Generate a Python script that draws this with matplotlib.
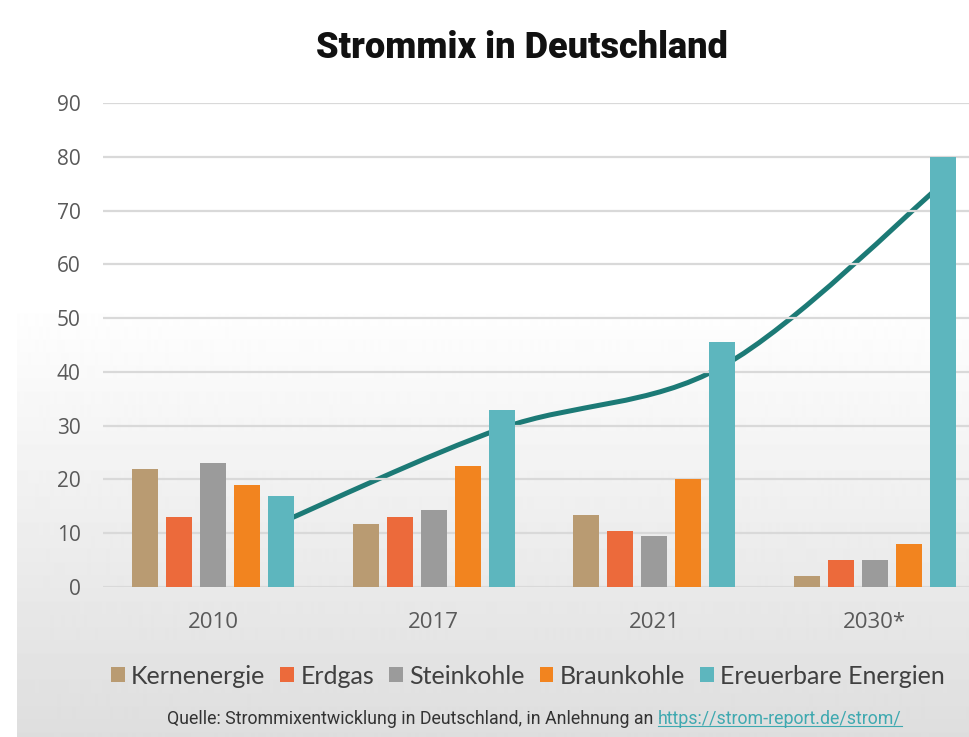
import numpy as np
import matplotlib
matplotlib.use("Agg")
import matplotlib.pyplot as plt
from matplotlib.path import Path
from matplotlib.patches import PathPatch, Patch
from matplotlib.lines import Line2D

# Data
years = ["2010", "2017", "2021", "2030*"]
sources = ["Kernenergie", "Erdgas", "Steinkohle", "Braunkohle", "Ereuerbare Energien"]
kernenergie = [22, 11.7, 13.3, 2]
erdgas = [13, 13.1, 10.5, 5]
steinkohle = [23, 14.4, 9.4, 5]
braunkohle = [19, 22.5, 20, 8]
erneuerbare = [17, 33, 45.5, 80]
trend = [12, 29.5, 41, 75]   # smoothed trend line drawn through the renewables

colors = ["#B99B72", "#EC6A3B", "#9B9B9B", "#F2841F", "#5DB6BE"]
line_color = "#1C7A76"

fig = plt.figure(figsize=(9.70, 7.37), dpi=100)

# background gradient panel
bg = fig.add_axes([17 / 970, 0, 1 - 17 / 970, 1], zorder=-10)
grad = np.concatenate([np.ones(300), np.linspace(1.0, 0.87, 437)])[:, None]
bg.imshow(grad, aspect="auto", cmap="gray", vmin=0, vmax=1, extent=[0, 1, 0, 1])
bg.axis("off")

ax = fig.add_axes([103 / 970, 150 / 737, 882 / 970, (587 - 103) / 737])
ax.patch.set_alpha(0)

x = np.arange(len(years))
step = 0.154
width = 0.118
series = [kernenergie, erdgas, steinkohle, braunkohle, erneuerbare]
for i, vals in enumerate(series):
    ax.bar(x + (i - 2) * step, vals, width=width, color=colors[i], zorder=3)

# smooth trend line (Catmull-Rom style bezier through the points)
tx = x + 2 * step
pts = np.column_stack([tx, trend])
verts = [pts[0]]
codes = [Path.MOVETO]
for k in range(len(pts) - 1):
    p0 = pts[k - 1] if k > 0 else pts[k]
    p1 = pts[k]
    p2 = pts[k + 1]
    p3 = pts[k + 2] if k + 2 < len(pts) else pts[k + 1]
    c1 = p1 + (p2 - p0) / 6
    c2 = p2 - (p3 - p1) / 6
    verts += [c1, c2, p2]
    codes += [Path.CURVE4] * 3
ax.add_patch(PathPatch(Path(verts, codes), fill=False, edgecolor=line_color,
                       lw=3.6, capstyle="round", zorder=1))

ax.set_xlim(-0.5, 3.5)
ax.set_ylim(0, 90)
ax.set_yticks(range(0, 91, 10))
ax.set_xticks(x)
ax.set_xticklabels(years)
ax.yaxis.grid(True, color="#d9d9d9", lw=1.6, zorder=2)
ax.set_axisbelow(False)
for gl in ax.get_ygridlines():
    gl.set_zorder(2)
for s in ax.spines.values():
    s.set_visible(False)
ax.tick_params(axis="both", length=0, labelcolor="#595959")
ax.tick_params(axis="y", pad=16, labelsize=15)
ax.tick_params(axis="x", pad=18, labelsize=16)
for lab in ax.get_xticklabels() + ax.get_yticklabels():
    lab.set_family("Open Sans")

fig.text(0.538, 1 - 48 / 737, "Strommix in Deutschland", ha="center", va="center",
         fontsize=26, fontweight="black", family="Roboto", color="#111111")

handles = [Patch(facecolor=c, edgecolor="none") for c in colors]
fig.legend(handles, sources, loc="center", bbox_to_anchor=(528 / 970, 1 - 676 / 737),
           ncol=5, frameon=False, handlelength=0.55, handleheight=0.55,
           handletextpad=0.25, columnspacing=0.6,
           prop={"family": "Lato", "size": 18}, labelcolor="#404040")

src = fig.text(167 / 970, 1 - 718 / 737,
               "Quelle: Strommixentwicklung in Deutschland, in Anlehnung an ",
               ha="left", va="center", fontsize=12.8, family="Roboto", color="#333333")
url = fig.text(0, 0, "https://strom-report.de/strom/", fontsize=12.8, family="Roboto",
               color="#3FA9B0", va="baseline", ha="left")
fig.canvas.draw()
r = fig.canvas.get_renderer()
bb = src.get_window_extent(r)
src_base = src.get_position()
# place url right after the source text on the same baseline
src.set_va("baseline")
src.set_position((src_base[0], (bb.y0 + 3) / fig.bbox.height))
fig.canvas.draw()
bb = src.get_window_extent(r)
url.set_position((bb.x1 / fig.bbox.width, src.get_position()[1]))
fig.canvas.draw()
ub = url.get_window_extent(r)
uy = (src.get_position()[1] * fig.bbox.height - 2) / fig.bbox.height
fig.add_artist(Line2D([ub.x0 / fig.bbox.width, ub.x1 / fig.bbox.width], [uy, uy],
                      color="#3FA9B0", lw=0.8, transform=fig.transFigure))

fig.savefig("out.png", dpi=100)
